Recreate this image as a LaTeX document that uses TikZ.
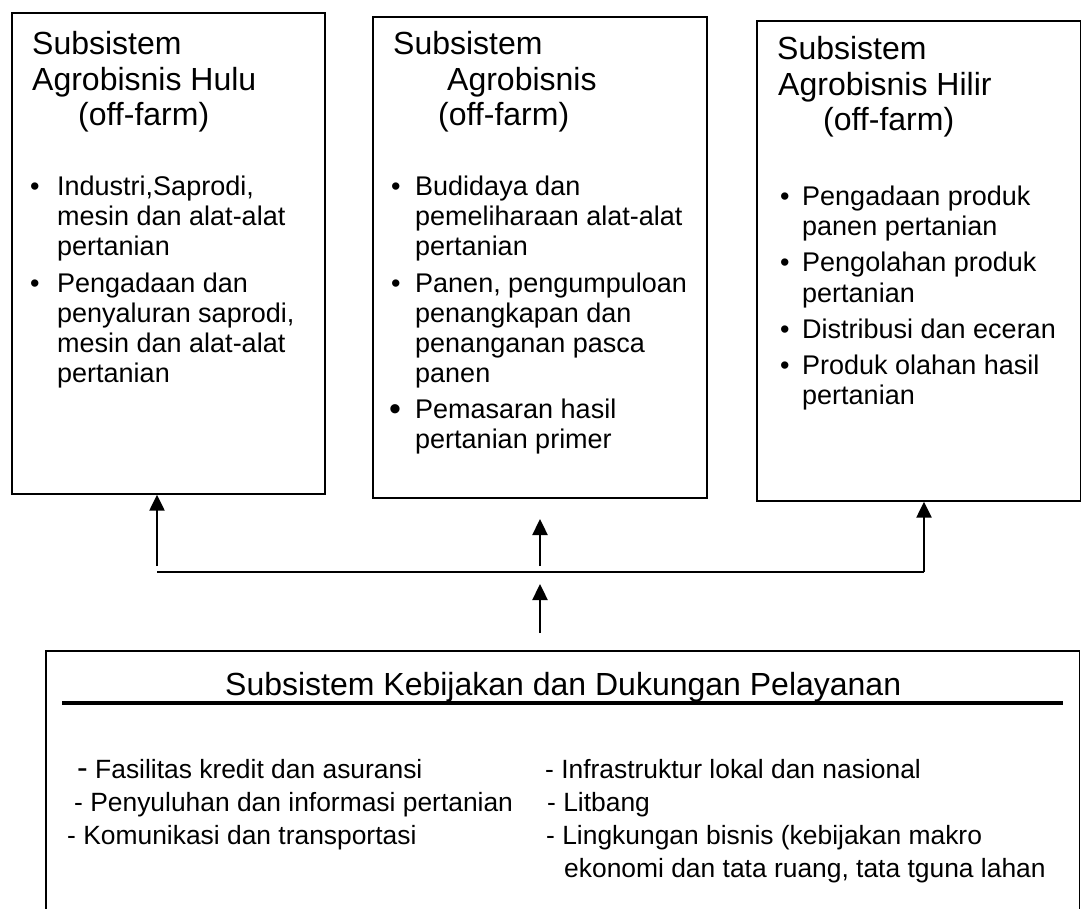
\documentclass[tikz,border=0pt]{standalone}
\usepackage{fontspec}
\setmainfont{Liberation Sans}
\usetikzlibrary{arrows.meta}
\begin{document}
\begin{tikzpicture}[x=1pt,y=-1pt,
  box/.style={draw, line width=1.7pt, inner sep=0pt, anchor=north west},
  ttl/.style={font=\fontsize{32}{36}\selectfont, anchor=base west, inner sep=0pt},
  itm/.style={font=\fontsize{27}{30}\selectfont, anchor=base west, inner sep=0pt},
  btm/.style={font=\fontsize{26.4}{30}\selectfont, anchor=base west, inner sep=0pt},
  conn/.style={line width=2pt},
  arr/.style={line width=2.4pt, -{Triangle[width=15pt,length=16pt]}}
]
\useasboundingbox (0,0) rectangle (1081,909);
\fill[white] (0,0) rectangle (1081,909);

% upper boxes
\node[box, minimum width=313pt, minimum height=481pt] (hulu) at (11,12) {};
\node[box, minimum width=334pt, minimum height=481pt] (tengah) at (372,16) {};
\node[box, minimum width=324pt, minimum height=480pt] (hilir) at (756,20) {};

% box 1 text
\node[ttl] (h1) at (32,55) {Subsistem};
\node[ttl] (h2) at (32,91) {Agrobisnis Hulu};
\node[ttl] (h3) at (78,126) {(off-farm)};
\node[itm] (hb1) at (30,196) {\textbullet};
\node[itm] (hb2) at (30,292) {\textbullet};
\foreach \n/\y/\t in {1/196/{Industri,Saprodi,}, 2/226/{mesin dan alat-alat}, 3/256/{pertanian},
  4/292/{Pengadaan dan}, 5/322/{penyaluran saprodi,}, 6/352/{mesin dan alat-alat}, 7/382/{pertanian}}
  \node[itm] (hi\n) at (57,\y) {\t};

% box 2 text
\node[ttl] (t1) at (393,55) {Subsistem};
\node[ttl] (t2) at (447,91) {Agrobisnis};
\node[ttl] (t3) at (438,126) {(off-farm)};
\node[itm] (tb1) at (391,196) {\textbullet};
\node[itm] (tb2) at (391,292) {\textbullet};
\node[itm, font=\fontsize{34}{34}\selectfont] (tb3) at (389,420) {\textbullet};
\foreach \n/\y/\t in {1/196/{Budidaya dan}, 2/226/{pemeliharaan alat-alat}, 3/256/{pertanian},
  4/292/{Panen, pengumpuloan}, 5/322/{penangkapan dan}, 6/352/{penanganan pasca}, 7/382/{panen},
  8/418/{Pemasaran hasil}, 9/448/{pertanian primer}}
  \node[itm] (ti\n) at (415,\y) {\t};

% box 3 text
\node[ttl] (r1) at (777,60) {Subsistem};
\node[ttl] (r2) at (778,96) {Agrobisnis Hilir};
\node[ttl] (r3) at (823,131) {(off-farm)};
\node[itm] (rb1) at (780,206) {\textbullet};
\node[itm] (rb2) at (780,272) {\textbullet};
\node[itm] (rb3) at (780,338) {\textbullet};
\node[itm] (rb4) at (780,374) {\textbullet};
\foreach \n/\y/\t in {1/206/{Pengadaan produk}, 2/236/{panen pertanian}, 3/272/{Pengolahan produk},
  4/302/{pertanian}, 5/338/{Distribusi dan eceran}, 6/374/{Produk olahan hasil}, 7/404/{pertanian}}
  \node[itm] (ri\n) at (802,\y) {\t};

% bottom box (cut off at the lower edge)
\node[minimum width=1033pt, minimum height=265pt, inner sep=0pt, anchor=north west] (pol) at (46,651) {};
\draw[line width=1.7pt] (pol.south west) -- (pol.north west) -- (pol.north east) -- (pol.south east);
\draw[line width=4pt] (62,703) -- (1063,703);
\node[ttl] (ptitle) at (225,695) {Subsistem Kebijakan dan Dukungan Pelayanan};
\node[btm] (p1) at (77,778) {{\fontsize{32}{32}\selectfont -} Fasilitas kredit dan asuransi};
\node[btm] (p2) at (74,811) {- Penyuluhan dan informasi pertanian};
\node[btm] (p3) at (67,844) {- Komunikasi dan transportasi};
\node[btm] (p4) at (545,778) {- Infrastruktur lokal dan nasional};
\node[btm] (p5) at (547,811) {- Litbang};
\node[btm] (p6) at (546,844) {- Lingkungan bisnis (kebijakan makro};
\node[btm] (p7) at (564,877) {ekonomi dan tata ruang, tata tguna lahan};

% connectors
\coordinate (jL) at (157,572);
\coordinate (jR) at (924,572);
\coordinate (aL) at (157,566);
\coordinate (mT) at (540,566);
\coordinate (mH) at (540,519);
\coordinate (lT) at (540,633);
\coordinate (lH) at (540,584);
\draw[conn] (jL) -- (jR);
\draw[arr] (jR) -- (jR |- hilir.south);
\draw[arr] (aL) -- (aL |- hulu.south);
\draw[arr] (mT) -- (mH);
\draw[arr] (lT) -- (lH);
\end{tikzpicture}
\end{document}
